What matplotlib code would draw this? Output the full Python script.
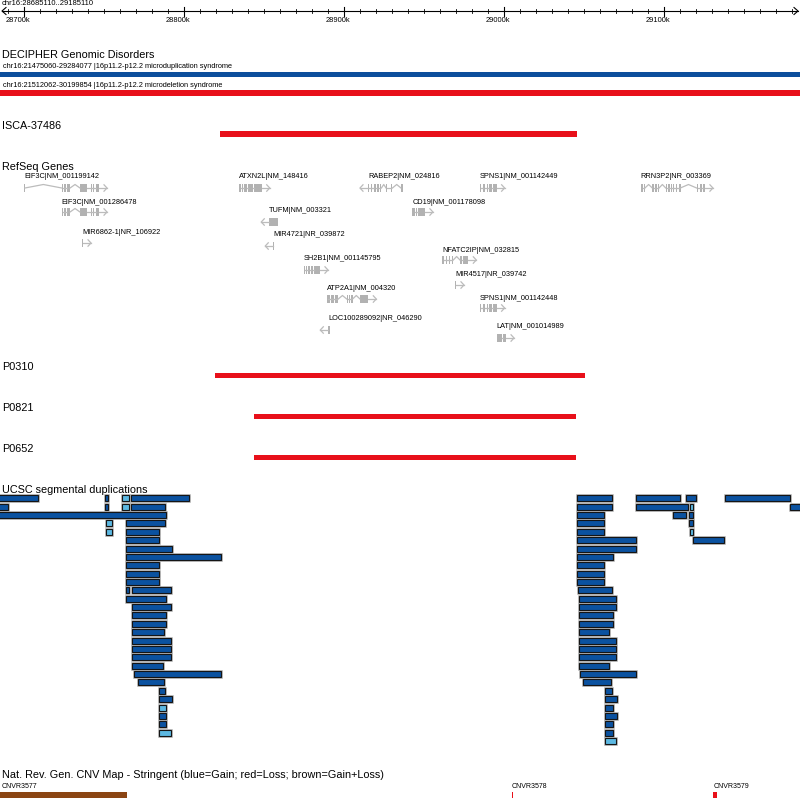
import matplotlib
matplotlib.use("Agg")
import matplotlib.pyplot as plt
from matplotlib.patches import Rectangle

plt.rcParams["font.family"] = ["Liberation Sans", "DejaVu Sans"]

# ---------- View ----------
VIEW_LABEL = "chr16:28685110..29185110"
VIEW_START = 28685110
VIEW_END = 29185110

# ---------- Ruler ----------
major_ticks_kb = [28700, 28800, 28900, 29000, 29100]
minor_ticks_kb = list(range(28690, 29190, 10))

# ---------- DECIPHER Genomic Disorders ----------
decipher_labels = [
    "chr16:21475060-29284077 |16p11.2-p12.2 microduplication syndrome",
    "chr16:21512062-30199854 |16p11.2-p12.2 microdeletion syndrome",
]
decipher_start = [21475060, 21512062]
decipher_end = [29284077, 30199854]
decipher_kind = ["dup", "del"]

# ---------- Single-feature tracks ----------
cnv_tracks = ["ISCA-37486", "P0310", "P0821", "P0652"]
cnv_start_kb = [28822.6, 28819.5, 28843.9, 28843.9]
cnv_end_kb = [29045.7, 29050.7, 29044.8, 29044.8]

# ---------- RefSeq genes (kb) ----------
gene_labels = [
    "EIF3C|NM_001199142", "EIF3C|NM_001286478", "MIR6862-1|NR_106922",
    "ATXN2L|NM_148416", "TUFM|NM_003321", "MIR4721|NR_039872",
    "SH2B1|NM_001145795", "ATP2A1|NM_004320", "LOC100289092|NR_046290",
    "RABEP2|NM_024816", "SPNS1|NM_001142449", "CD19|NM_001178098",
    "NFATC2IP|NM_032815", "MIR4517|NR_039742", "SPNS1|NM_001142448",
    "LAT|NM_001014989", "RRN3P2|NR_003369",
]
gene_strand = [1, 1, 1, 1, -1, -1, 1, 1, -1, -1, 1, 1, 1, 1, 1, 1, 1]
gene_exons = [
    [(28700.1, 28700.7), (28723.7, 28724.3), (28725.3, 28725.9), (28726.8, 28728.9),
     (28735.1, 28739.7), (28741.8, 28742.4), (28743.4, 28744.1), (28745.1, 28747.0)],
    [(28723.7, 28724.3), (28725.3, 28725.9), (28726.8, 28728.9),
     (28735.1, 28739.7), (28741.8, 28742.4), (28743.4, 28744.1), (28745.1, 28747.0)],
    [(28736.4, 28737.0)],
    [(28834.7, 28835.5), (28836.4, 28837.0), (28837.6, 28839.3), (28840.3, 28843.4),
     (28843.9, 28848.7)],
    [(28853.4, 28858.7)],
    [(28855.9, 28856.5)],
    [(28875.1, 28875.7), (28876.4, 28877.0), (28877.8, 28878.9), (28879.7, 28880.9),
     (28881.5, 28885.1)],
    [(28889.7, 28890.3), (28890.9, 28891.5), (28892.2, 28892.8), (28893.4, 28894.1),
     (28894.7, 28895.3), (28895.9, 28896.5), (28901.8, 28902.4), (28903.2, 28903.9),
     (28904.7, 28905.5), (28910.1, 28915.3)],
    [(28890.3, 28891.4)],
    [(28915.1, 28916.0), (28917.0, 28917.9), (28918.9, 28919.8), (28920.7, 28921.7),
     (28922.6, 28923.5), (28926.4, 28927.0), (28929.5, 28930.4), (28935.7, 28937.0)],
    [(28985.1, 28985.9), (28987.2, 28988.0), (28989.3, 28990.3), (28990.9, 28992.4),
     (28993.0, 28995.5)],
    [(28942.8, 28944.5), (28945.1, 28945.9), (28946.5, 28950.7)],
    [(28961.5, 28962.8), (28963.7, 28964.5), (28965.7, 28966.4), (28967.4, 28968.4),
     (28972.6, 28973.7), (28974.7, 28977.8)],
    [(28969.5, 28970.1)],
    [(28985.1, 28985.9), (28987.2, 28988.0), (28989.3, 28990.3), (28990.9, 28992.4),
     (28993.0, 28995.5)],
    [(28995.5, 28998.7), (28999.3, 29001.4)],
    [(29085.5, 29086.8), (29087.6, 29088.2), (29092.8, 29093.9), (29094.7, 29095.5),
     (29096.2, 29097.0), (29101.2, 29101.8), (29102.8, 29103.4), (29104.5, 29105.1),
     (29105.9, 29106.6), (29107.6, 29108.4), (29109.7, 29110.3), (29120.5, 29121.2),
     (29122.6, 29123.7), (29124.7, 29125.7)],
]
# layout: label row / glyph row in pixels
gene_label_y = [177, 202, 232, 177, 211, 235, 259, 289, 319, 177, 177, 202, 250, 274, 298, 327, 177]
gene_glyph_y = [188, 212, 243, 188, 222, 246, 270, 299, 330, 188, 188, 212, 260, 285, 308, 338, 188]

# ---------- UCSC segmental duplications (kb) ----------
seg_row = [0, 0, 0, 0, 1, 1, 1, 1, 2, 3, 3, 4, 4, 5, 6, 7, 8, 9, 10, 11, 11, 12, 13, 14,
           15, 16, 17, 18, 19, 20, 21, 22, 23, 24, 25, 26, 27, 28,
           0, 0, 0, 0, 1, 1, 1, 1, 2, 2, 2, 3, 3, 4, 4, 5, 5, 6, 7, 8, 9, 10, 11, 12,
           13, 14, 15, 16, 17, 18, 19, 20, 21, 22, 23, 24, 25, 26, 27, 28, 29]
seg_start_kb = [28670.0, 28750.7, 28761.4, 28767.0, 28670.0, 28750.9, 28761.4, 28767.0,
                28670.0, 28751.4, 28763.9, 28751.4, 28763.9, 28763.9, 28763.9, 28763.9,
                28763.9, 28763.9, 28763.9, 28763.9, 28767.6, 28763.9, 28767.6, 28767.6,
                28767.6, 28767.6, 28767.6, 28767.6, 28767.6, 28767.6, 28768.9, 28771.4,
                28784.5, 28784.5, 28784.5, 28784.5, 28784.5, 28784.5,
                29045.7, 29082.6, 29113.9, 29138.2, 29045.7, 29082.6, 29116.4, 29178.9,
                29045.7, 29105.7, 29115.7, 29045.7, 29115.7, 29045.7, 29116.4, 29045.7,
                29118.2, 29045.7, 29045.7, 29045.7, 29045.7, 29045.7, 29046.4, 29047.0,
                29047.0, 29047.0, 29047.0, 29047.0, 29047.0, 29047.0, 29047.0, 29047.0,
                29047.6, 29049.5, 29063.2, 29063.2, 29063.2, 29063.2, 29063.2, 29063.2,
                29063.2]
seg_end_kb = [28708.9, 28752.6, 28765.7, 28803.2, 28690.1, 28752.4, 28765.7, 28788.2,
              28788.9, 28755.1, 28788.2, 28755.1, 28784.5, 28784.5, 28792.6, 28823.2,
              28784.5, 28784.5, 28784.5, 28765.7, 28792.0, 28788.9, 28792.0, 28788.9,
              28788.9, 28787.6, 28792.0, 28792.0, 28792.0, 28787.0, 28823.2, 28787.6,
              28788.2, 28792.6, 28788.9, 28788.9, 28788.9, 28792.0,
              29067.6, 29110.1, 29120.1, 29178.9, 29067.6, 29115.1, 29118.2, 29200.0,
              29062.6, 29113.9, 29118.2, 29062.6, 29118.2, 29062.6, 29118.2, 29082.6,
              29137.6, 29082.6, 29068.2, 29062.6, 29062.6, 29062.6, 29067.6, 29070.1,
              29070.1, 29068.2, 29068.2, 29065.7, 29070.1, 29070.1, 29070.1, 29065.7,
              29082.6, 29067.0, 29067.6, 29070.7, 29068.2, 29070.7, 29068.2, 29068.2,
              29070.1]
seg_light = [0, 0, 1, 0, 0, 0, 1, 0, 0, 1, 0, 1, 0, 0, 0, 0, 0, 0, 0, 0, 0, 0, 0, 0,
             0, 0, 0, 0, 0, 0, 0, 0, 0, 0, 1, 0, 0, 1,
             0, 0, 0, 0, 0, 0, 1, 0, 0, 0, 0, 0, 0, 0, 1, 0, 0, 0, 0, 0, 0, 0, 0, 0,
             0, 0, 0, 0, 0, 0, 0, 0, 0, 0, 0, 0, 0, 0, 0, 0, 1]

# ---------- Nat. Rev. Gen. CNV map ----------
cnvr_names = ["CNVR3577", "CNVR3578", "CNVR3579"]
cnvr_start_kb = [28600.0, 29005.1, 29130.9]
cnvr_end_kb = [28764.2, 29006.0, 29133.0]
cnvr_type = ["gain+loss", "loss", "loss"]

# ---------- Styles ----------
BLUE = "#0c4e9c"
RED = "#e8101a"
BROWN = "#8b4513"
GENE_FILL = "#b2b2b2"
GENE_LINE = "#bcbcbc"
SEG_DARK = "#0b52a0"
SEG_LIGHT = "#5cb8e2"
cnvr_colors = {"gain": BLUE, "loss": RED, "gain+loss": BROWN}

W, H = 800, 798
BP = (VIEW_END - VIEW_START) / W   # bp per pixel

fig = plt.figure(figsize=(W / 100, H / 100), dpi=100)
ax = fig.add_axes([0, 0, 1, 1])
ax.set_xlim(VIEW_START, VIEW_END)
ax.set_ylim(H, 0)
ax.axis("off")

def px(x):
    return VIEW_START + x * BP

def track_label(y, text, size=7.8):
    ax.text(px(2), y, text, fontsize=size, ha="left", va="center", color="black")

def bar(start, end, yc, h, color):
    ax.add_patch(Rectangle((start, yc - h / 2), end - start, h,
                           facecolor=color, edgecolor="none"))

# ---------- Ruler ----------
ax.text(px(1.5), 3.5, VIEW_LABEL, fontsize=5.5, ha="left", va="center")
ax.plot([px(2), px(798)], [11, 11], color="black", lw=0.8)
ax.plot([px(6), px(2), px(6)], [7.5, 11, 14.5], color="black", lw=0.8)
ax.plot([px(794), px(798), px(794)], [7.5, 11, 14.5], color="black", lw=0.8)
for t in minor_ticks_kb:
    if t in major_ticks_kb:
        ax.plot([t * 1000, t * 1000], [7, 15.5], color="black", lw=0.8)
        ax.text(t * 1000 - 5.5 * BP, 20.5, f"{t}k", fontsize=5.4, ha="center", va="center")
    else:
        ax.plot([t * 1000, t * 1000], [9, 13.3], color="black", lw=0.6)

# ---------- DECIPHER ----------
track_label(54.5, "DECIPHER Genomic Disorders")
for lab, s, e, kind, ly, by, bh in zip(decipher_labels, decipher_start, decipher_end,
                                      decipher_kind, [66.5, 85.8], [74.2, 93.0], [5, 6]):
    ax.text(px(3), ly, lab, fontsize=5.3, ha="left", va="center")
    bar(s, e, by, bh, BLUE if kind == "dup" else RED)

# ---------- single CNV tracks ----------
for name, s, e, ly, by in zip(cnv_tracks, cnv_start_kb, cnv_end_kb,
                              [126, 367, 408, 449], [134, 375.3, 416.3, 457.5]):
    track_label(ly, name)
    bar(s * 1000, e * 1000, by, 5.5, RED)

# ---------- RefSeq genes ----------
track_label(166.5, "RefSeq Genes")
for lab, strand, exons, ly, gy in zip(gene_labels, gene_strand, gene_exons,
                                      gene_label_y, gene_glyph_y):
    ex = [(a * 1000, b * 1000) for a, b in exons]
    ax.text(ex[0][0], ly, lab, fontsize=5.3, ha="left", va="center")
    for (a0, b0), (a1, b1) in zip(ex[:-1], ex[1:]):
        if a1 - b0 > 4 * BP:
            ax.plot([b0, (b0 + a1) / 2, a1], [gy, gy - 3.5, gy], color=GENE_LINE, lw=0.9)
        else:
            ax.plot([b0, a1], [gy, gy], color=GENE_LINE, lw=0.9)
    for a, b in ex:
        ax.add_patch(Rectangle((a, gy - 3.8), max(b - a, 1.2 * BP), 7.6,
                               facecolor=GENE_FILL, edgecolor="none"))
    if strand > 0:
        base, tip = ex[-1][1], ex[-1][1] + 8 * BP
        back = tip - 3 * BP
    else:
        base, tip = ex[0][0], ex[0][0] - 8 * BP
        back = tip + 3 * BP
    ax.plot([base, tip], [gy, gy], color=GENE_LINE, lw=0.9)
    ax.plot([back, tip, back], [gy - 3.2, gy, gy + 3.2], color=GENE_LINE, lw=0.9)

# ---------- UCSC segmental duplications ----------
track_label(490, "UCSC segmental duplications")
for r, s, e, light in zip(seg_row, seg_start_kb, seg_end_kb, seg_light):
    yc = 498.3 + r * 8.37
    fc = SEG_LIGHT if light else SEG_DARK
    ax.add_patch(Rectangle((s * 1000, yc - 3), (e - s) * 1000, 6,
                           facecolor="none", edgecolor="#a8a8a8", lw=1.8))
    ax.add_patch(Rectangle((s * 1000, yc - 3), (e - s) * 1000, 6,
                           facecolor=fc, edgecolor="#151515", lw=0.8))

# ---------- Nat. Rev. Gen. CNV map ----------
track_label(775, "Nat. Rev. Gen. CNV Map - Stringent (blue=Gain; red=Loss; brown=Gain+Loss)")
for name, s, e, kind in zip(cnvr_names, cnvr_start_kb, cnvr_end_kb, cnvr_type):
    x0 = max(s * 1000, VIEW_START + 2 * BP)
    ax.text(x0, 786.5, name, fontsize=5, ha="left", va="center")
    bar(s * 1000, e * 1000, 795.5, 7, cnvr_colors[kind])

fig.savefig("out.png", dpi=100)
